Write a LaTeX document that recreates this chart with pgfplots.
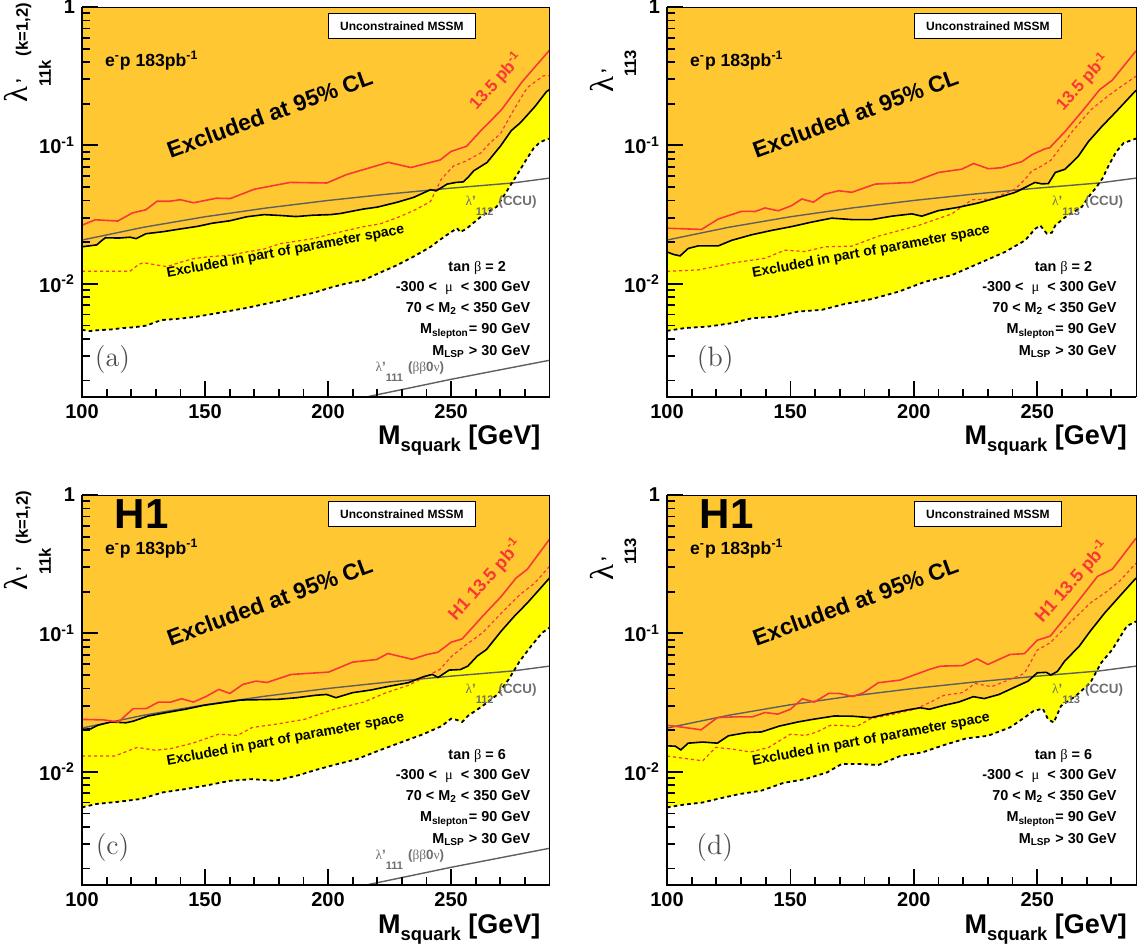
\documentclass[border=0pt]{standalone}
\usepackage[no-math]{fontspec}
\setmainfont{Liberation Sans}
\newfontfamily\grk{Liberation Serif}
\usepackage{pgfplots}
\usepackage{pgfplotstable}
\pgfplotsset{compat=1.18}

\definecolor{orng}{RGB}{255,200,50}
\definecolor{yel}{RGB}{255,255,0}
\definecolor{redl}{RGB}{250,55,55}
\definecolor{grayl}{RGB}{95,95,95}
\definecolor{grayt}{RGB}{110,110,110}

% ---------------- shared curves ----------------
\pgfplotstableread{
x y
100 0.0207
125 0.0256
150 0.0305
175 0.0353
200 0.0400
225 0.0446
250 0.0491
275 0.0535
290 0.0580
}\ccuT
\pgfplotstableread{
x y
214 0.00150
250 0.00204
290 0.00280
}\bbnuT

% ---------------- panel (a) ----------------
\pgfplotstableread{
x y
100 0.0265
105.4 0.0290
114.5 0.0284
120.5 0.0325
126 0.0343
130.5 0.0395
135.6 0.0395
140 0.0405
145.3 0.0385
154.6 0.0415
160.3 0.0413
170 0.0482
184.6 0.0540
199.5 0.0535
207.5 0.0615
224.5 0.0755
233.6 0.0692
245.6 0.0785
250 0.0905
256.3 0.0985
262.5 0.130
270.4 0.180
279 0.290
290 0.487
}\rsA
\pgfplotstableread{
x y
100 0.0123
110 0.0123
119.5 0.0123
123 0.0138
125 0.0142
130 0.0137
134.5 0.0133
140 0.0143
145.3 0.0152
152 0.0157
160.2 0.0161
167 0.0170
173.8 0.0178
180.6 0.0195
187 0.0203
194.1 0.0212
200 0.0226
207.7 0.0243
214 0.0258
221.2 0.0271
228 0.0300
234.8 0.0338
241.6 0.0392
244 0.0480
246 0.0570
251 0.0710
256 0.0770
262 0.0880
266 0.105
270 0.121
275.5 0.181
281 0.262
287.5 0.318
290 0.320
}\rdA
\pgfplotstableread{
x y
100 0.0185
103 0.0188
106 0.0191
108 0.0205
109.5 0.0215
115 0.0214
119.5 0.0217
122 0.0212
126 0.0230
133 0.0238
140 0.0249
147 0.0260
153 0.0274
160 0.0285
167 0.0305
174 0.0316
180 0.0312
187 0.0306
194 0.0313
201 0.0316
205 0.0322
210 0.0335
214.5 0.0347
220 0.0358
228 0.0388
234.8 0.0421
241.6 0.0478
244 0.0470
248.4 0.0525
252 0.0540
255 0.0545
257 0.0590
259.2 0.0655
264.6 0.0752
270.1 0.0990
274.5 0.128
278.2 0.146
284 0.190
288.8 0.245
290 0.253
}\bsA
\pgfplotstableread{
x y
100 0.00465
103 0.00455
106 0.00461
112 0.00468
116.8 0.00479
121 0.00485
126.3 0.00499
130 0.00530
133.1 0.00548
140 0.00560
146.7 0.00579
153 0.00605
160.2 0.00637
167 0.00670
173.8 0.00711
180 0.00750
187.3 0.00807
194 0.00860
200.9 0.00937
207 0.0100
214.5 0.01064
221 0.0120
228 0.01362
235 0.0158
241.6 0.01845
245 0.0205
248.4 0.0226
252.4 0.0252
253.8 0.0236
256.5 0.0252
261.9 0.0303
265 0.0330
268.5 0.0360
271 0.0420
274 0.0510
277 0.0620
280 0.0760
283.5 0.0950
286 0.105
288.5 0.110
290 0.112
}\bdA

% ---------------- panel (b) ----------------
\pgfplotstableread{
x y
100 0.0252
114 0.0247
120.8 0.0294
130.3 0.0334
135.7 0.0333
139.7 0.0353
145.1 0.0337
150.5 0.0367
154.6 0.0410
159.3 0.0389
164 0.0444
169.5 0.0470
174.9 0.0458
184.3 0.0525
199.2 0.0540
210 0.0637
219.4 0.0673
224.2 0.0740
230.2 0.0678
235.6 0.0690
243.8 0.0764
248 0.0860
253.2 0.0946
255 0.0960
261.2 0.1255
268.6 0.180
275.3 0.253
280.4 0.296
290 0.482
}\rsB
\pgfplotstableread{
x y
100 0.0123
112.7 0.0126
126.2 0.0141
139.7 0.0153
147.8 0.0175
155.9 0.0171
164 0.0185
174.9 0.0187
185.7 0.0221
201.9 0.0264
215.4 0.0320
223.5 0.0405
231.6 0.0410
241 0.0483
245.1 0.0570
248 0.0660
250 0.0680
255.5 0.0780
259.7 0.0980
264.1 0.1255
271.6 0.180
278.2 0.224
283.4 0.262
290 0.316
}\rdB
\pgfplotstableread{
x y
100 0.0170
102.6 0.0163
105.3 0.0159
108.6 0.0180
112.7 0.0188
120.8 0.0188
126.2 0.0206
134.3 0.0226
142.4 0.0243
150.5 0.0259
158.6 0.0279
166.7 0.0298
174.9 0.0291
183 0.0291
191.1 0.0308
199.2 0.0320
203.2 0.0308
210 0.0338
218.1 0.0357
226.2 0.0384
234.3 0.0421
241 0.0457
245.1 0.0497
249.1 0.0540
251.9 0.0527
254.5 0.0530
257.3 0.0637
261.3 0.0673
266.7 0.0839
270.8 0.107
276 0.136
281.9 0.175
290 0.250
}\bsB
\pgfplotstableread{
x y
100 0.00457
107.3 0.00479
116.8 0.00491
126.2 0.00519
134.3 0.00563
143.8 0.00579
153.2 0.00630
162.7 0.00648
172.1 0.00715
183 0.00776
193.8 0.00877
204.6 0.01035
215.4 0.01155
226.2 0.0140
237 0.0170
245.1 0.0206
249.1 0.0249
251.2 0.0264
253.9 0.0230
255.9 0.0234
257.3 0.0264
261.3 0.0303
268.1 0.0360
271 0.0430
274 0.0500
276.5 0.0580
279 0.0720
282 0.0900
285 0.104
290 0.112
}\bdB

% ---------------- panel (c) ----------------
\pgfplotstableread{
x y
100 0.0239
108.8 0.0237
114.8 0.0229
120.8 0.0286
126.1 0.0286
131.1 0.0319
136 0.0319
140.5 0.0337
145.3 0.0319
150.3 0.0349
155.6 0.0394
160.1 0.0368
165.4 0.0428
170.7 0.0452
175.2 0.0442
185 0.0505
200.2 0.0525
210 0.0620
219.8 0.0648
224.3 0.0716
234.1 0.0650
240.2 0.0704
244.7 0.0731
250 0.0863
254.5 0.0912
262.8 0.133
270.4 0.185
276.4 0.251
281 0.291
290 0.479
}\rsC
\pgfplotstableread{
x y
100 0.0130
113.3 0.0130
122.4 0.0150
129.9 0.0143
136 0.0147
145 0.0161
155.6 0.0187
163.1 0.0183
169.2 0.0209
179 0.0221
190.3 0.0239
202.4 0.0283
214.5 0.0319
223.6 0.0373
232.6 0.0421
240.2 0.0492
245.5 0.0550
250 0.0677
255.3 0.0808
262.8 0.101
270.4 0.140
277.9 0.190
284 0.231
290 0.305
}\rdC
\pgfplotstableread{
x y
100 0.0203
103.5 0.0204
106.5 0.0217
111.8 0.0229
117.8 0.0226
120.8 0.0232
126.9 0.0253
134.4 0.0268
142 0.0283
149.5 0.0302
157.1 0.0316
164.7 0.0330
172.2 0.0332
179.8 0.0334
187.3 0.0343
194.9 0.0357
199.4 0.0362
203.2 0.0343
210 0.0373
217.5 0.0390
225.1 0.0416
232.6 0.0440
238.7 0.0486
242.4 0.0505
244.7 0.0480
249.2 0.0543
253.8 0.0548
256.8 0.0580
260.6 0.0685
264.4 0.0765
270.4 0.104
275.7 0.133
281 0.166
290 0.251
}\bsC
\pgfplotstableread{
x y
100 0.00553
105.7 0.00585
114.8 0.00607
123.9 0.00636
132.9 0.00710
142 0.00750
151.1 0.00800
160.1 0.00860
169.2 0.00885
178.2 0.00860
187.3 0.00936
194.9 0.0103
202.4 0.0112
211.5 0.0123
220.5 0.0142
229.6 0.0163
238.7 0.0187
246.2 0.0214
250 0.0242
252.3 0.0237
254.5 0.0229
256.8 0.0253
262.8 0.0299
268.9 0.0362
273.4 0.0465
277.9 0.0630
282.5 0.0808
287 0.101
290 0.110
}\bdC

% ---------------- panel (d) ----------------
\pgfplotstableread{
x y
100 0.0217
107.1 0.0209
113.8 0.0201
120.4 0.0246
126.4 0.0249
134.5 0.0249
139.7 0.0268
144.9 0.0261
150 0.0283
154.8 0.0337
159.7 0.0319
165.6 0.0369
170 0.0368
175.2 0.0350
179.7 0.0373
185.6 0.0440
194.5 0.0460
206.3 0.0549
210.8 0.0580
219.7 0.0585
225.6 0.0655
230 0.0596
238.9 0.0704
244.8 0.0714
250 0.0893
255.2 0.0954
259.6 0.119
267 0.175
274.4 0.258
280.4 0.291
290 0.487
}\rsD
\pgfplotstableread{
x y
100 0.0130
107.1 0.0125
114.5 0.0120
119.7 0.0150
126.4 0.0146
133.8 0.0139
141.2 0.0150
150 0.0187
156 0.0183
160.4 0.0193
166.3 0.0217
170.8 0.0216
176.7 0.0212
182.6 0.0242
191.5 0.0260
200.4 0.0283
206.3 0.0316
212.2 0.0357
219.7 0.0373
224.8 0.0435
231.5 0.0412
238.9 0.0465
244.8 0.0514
250 0.0757
255.2 0.0855
262.6 0.116
271.5 0.166
277.4 0.196
283.3 0.238
290 0.322
}\rdD
\pgfplotstableread{
x y
100 0.0154
103.4 0.0153
105.6 0.0144
108.6 0.0161
114.5 0.0164
120.4 0.0161
124.9 0.0182
132.3 0.0192
138.2 0.0194
145.6 0.0214
153 0.0229
158.9 0.0239
167.8 0.0253
175.2 0.0252
182.6 0.0246
188.6 0.0260
197.4 0.0280
202.6 0.0290
206.3 0.0283
212.2 0.0302
218.2 0.0319
224.1 0.0349
228.5 0.0338
234.5 0.0362
240.4 0.0405
246.3 0.0452
250 0.0519
253.7 0.0523
255.5 0.0500
258.2 0.0532
261.1 0.0630
267 0.0808
271.5 0.104
277.4 0.141
283.3 0.185
290 0.251
}\bsD
\pgfplotstableread{
x y
100 0.00553
107.1 0.00580
114.5 0.00600
120.4 0.00636
129.3 0.00690
138.2 0.00730
147.1 0.00830
156 0.00885
164.9 0.00990
170.8 0.0114
176.7 0.0114
185.6 0.0112
194.5 0.0130
203.4 0.0138
212.2 0.0156
221.1 0.0174
230 0.0182
238.9 0.0209
244.8 0.0246
248.5 0.0275
252.2 0.0286
254.4 0.0239
256.7 0.0227
259.6 0.0299
265.6 0.0353
271.5 0.0440
275.9 0.0613
280.4 0.0764
286.3 0.113
290 0.122
}\bdD

\pgfplotsset{
  /pgfplots/myquad/.style={
    scale only axis, clip mode=individual,
    xmin=100, xmax=290, ymin=0.00152, ymax=1,
    xtick={100,150,200,250},
    xticklabels={\textbf{100},\textbf{150},\textbf{200},\textbf{250}},
    minor xtick={110,120,130,140,160,170,180,190,210,220,230,240,260,270,280},
    ytick={0.01,0.1,1},
    yticklabels={\textbf{10\textsuperscript{-2}},\textbf{10\textsuperscript{-1}},\textbf{1}},
    minor ytick={0.002,0.003,0.004,0.005,0.006,0.007,0.008,0.009,0.02,0.03,0.04,0.05,0.06,0.07,0.08,0.09,0.2,0.3,0.4,0.5,0.6,0.7,0.8,0.9},
    tick pos=left, tick align=inside,
    major tick length=8pt, minor tick length=4pt,
    tick style={line width=0.9pt, black},
    axis line style={line width=0.5pt},
    tick label style={font=\bfseries\fontsize{10}{12}\selectfont},
    axis on top,
  },
  /pgfplots/cculine/.style={grayl, line width=0.7pt},
  /pgfplots/rsol/.style={redl, line width=0.8pt},
  /pgfplots/rdash/.style={redl, line width=0.6pt, dash pattern=on 1.6pt off 1.4pt},
  /pgfplots/bsol/.style={black, line width=0.8pt},
  /pgfplots/bdash/.style={black, line width=0.9pt, dash pattern=on 1.8pt off 1.6pt},
}

\newcommand{\pfont}{\bfseries\fontsize{7.2}{8}\selectfont}
\newcommand{\thickframe}{\draw[line width=1pt] (rel axis cs:0,1) -- (rel axis cs:0,0) -- (rel axis cs:1,0);}
\newcommand{\xtitle}{\node[anchor=base east, yshift=-24pt, xshift=-1pt] at (rel axis cs:1,0) {\bfseries\fontsize{13.5}{14}\selectfont M\raisebox{-3.5pt}{\fontsize{9.2}{9.5}\selectfont squark} [GeV]};}
\newcommand{\common}[1]{%
  \node[draw=black, line width=0.7pt, fill=white, minimum width=73.5pt, minimum height=12.3pt, inner sep=0pt, font=\bfseries\fontsize{6}{7}\selectfont] at (axis cs:230,0.729) {Unconstrained MSSM};
  \node[anchor=west, font=\bfseries\fontsize{8.8}{10}\selectfont] at (axis cs:106.5,0.41) {e\textsuperscript{-}p 183pb\textsuperscript{-1}};
  \node[rotate=20, font=\bfseries\fontsize{11.4}{13}\selectfont] at (axis cs:176.3,0.17) {Excluded at 95\% CL};
  \node[rotate=10.5, font=\bfseries\fontsize{7}{8}\selectfont] at (axis cs:182.7,0.0170) {Excluded in part of parameter space};
  \node[anchor=base, font=\pfont] at (axis cs:260.6,0.01219) {tan {\grk\mdseries β} = #1};
  \node[anchor=base east, font=\pfont] at (axis cs:285,0.00876) {-300 <\ \ {\grk\mdseries μ}\ \ < 300 GeV};
  \node[anchor=base east, font=\pfont] at (axis cs:285,0.00622) {70 < M\textsubscript{2} < 350 GeV};
  \node[anchor=base east, font=\pfont] at (axis cs:285,0.00435) {M\textsubscript{slepton}= 90 GeV};
  \node[anchor=base east, font=\pfont] at (axis cs:285,0.00304) {M\textsubscript{LSP} > 30 GeV};
}
% closedcycle on this log axis closes at y=1 (top edge): fill above each curve
\newcommand{\curves}[4]{%
  \addplot[fill=yel, draw=none] table {#4} \closedcycle;
  \addplot[fill=orng, draw=none] table {#3} \closedcycle;
  \addplot[cculine] table {\ccuT};
  \addplot[rdash] table {#2};
  \addplot[bsol] table {#3};
  \addplot[bdash] table {#4};
  \addplot[rsol] table {#1};
}
\newcommand{\bblabel}{%
  \addplot[cculine] table {\bbnuT};
  \node[anchor=base west, text=grayt, font=\bfseries\fontsize{6.7}{8}\selectfont] at (axis cs:216.5,0.00231) {{\grk\mdseries λ}'\raisebox{-5pt}{\fontsize{5.5}{6}\selectfont 111}\hspace{2.5pt}({\grk\mdseries ββ}0{\grk\mdseries ν})};
}
\newcommand{\ccutext}[1]{%
  \node[anchor=base east, text=grayt, font=\bfseries\fontsize{6.7}{8}\selectfont] at (axis cs:287.6,0.0365) {{\grk\mdseries λ}'\raisebox{-5pt}{\fontsize{5.5}{6}\selectfont #1}\hspace{2.5pt}(CCU)};
}
\newcommand{\ylabK}{{\grk\fontsize{16.5}{16.5}\selectfont λ}{\bfseries\fontsize{8.3}{8.3}\selectfont\makebox[0pt][l]{\hspace{1.5pt}'}\raisebox{-11.5pt}{11k}\hspace{2pt}(k=1,2)}}
\newcommand{\ylabT}{{\grk\fontsize{16.5}{16.5}\selectfont λ}{\bfseries\fontsize{8.3}{8.3}\selectfont\makebox[0pt][l]{\hspace{1.5pt}'}\raisebox{-11.5pt}{113}}}
\newcommand{\plabel}[2]{\node[text=black!70, font=\fontfamily{lmr}\fontsize{14}{14}\selectfont] at (axis cs:#1,0.00283) {(#2)};}

\begin{document}
\begin{tikzpicture}
\useasboundingbox (0,0) rectangle (573.5pt,474pt);

% ===== (a) =====
\begin{axis}[ymode=log, myquad, at={(41pt,275.5pt)}, anchor=south west, width=233.75pt, height=195pt]
\curves{\rsA}{\rdA}{\bsA}{\bdA}
\bblabel
\common{2}
\ccutext{112}
\node[rotate=48, text=redl, font=\bfseries\fontsize{8.5}{10}\selectfont] at (axis cs:268.4,0.29) {13.5 pb\textsuperscript{-1}};
\plabel{112.4}{a}
\thickframe
\xtitle
\node[xshift=-27pt, rotate=90, anchor=base west] at (rel axis cs:0,0.736) {\ylabK};
\end{axis}

% ===== (b) =====
\begin{axis}[ymode=log, myquad, at={(333.5pt,275.5pt)}, anchor=south west, width=234.5pt, height=195pt]
\curves{\rsB}{\rdB}{\bsB}{\bdB}
\common{2}
\ccutext{113}
\node[rotate=48, text=redl, font=\bfseries\fontsize{8.5}{10}\selectfont] at (axis cs:268.5,0.288) {13.5 pb\textsuperscript{-1}};
\plabel{119.5}{b}
\thickframe
\xtitle
\node[xshift=-27pt, rotate=90, anchor=base west] at (rel axis cs:0,0.762) {\ylabT};
\end{axis}

% ===== (c) =====
\begin{axis}[ymode=log, myquad, at={(41pt,31.5pt)}, anchor=south west, width=233.75pt, height=195pt]
\curves{\rsC}{\rdC}{\bsC}{\bdC}
\bblabel
\common{6}
\ccutext{112}
\node[rotate=48, text=redl, font=\bfseries\fontsize{9}{10}\selectfont] at (axis cs:263.9,0.244) {H1 13.5 pb\textsuperscript{-1}};
\node[anchor=west, font=\bfseries\fontsize{21}{22}\selectfont] at (axis cs:110.5,0.73) {H1};
\plabel{112.4}{c}
\thickframe
\xtitle
\node[xshift=-27pt, rotate=90, anchor=base west] at (rel axis cs:0,0.736) {\ylabK};
\end{axis}

% ===== (d) =====
\begin{axis}[ymode=log, myquad, at={(333.5pt,31.5pt)}, anchor=south west, width=234.5pt, height=195pt]
\curves{\rsD}{\rdD}{\bsD}{\bdD}
\common{6}
\ccutext{113}
\node[rotate=48, text=redl, font=\bfseries\fontsize{9}{10}\selectfont] at (axis cs:264.1,0.2375) {H1 13.5 pb\textsuperscript{-1}};
\node[anchor=west, font=\bfseries\fontsize{21}{22}\selectfont] at (axis cs:110.5,0.73) {H1};
\plabel{119.3}{d}
\thickframe
\xtitle
\node[xshift=-27pt, rotate=90, anchor=base west] at (rel axis cs:0,0.762) {\ylabT};
\end{axis}
\end{tikzpicture}
\end{document}
